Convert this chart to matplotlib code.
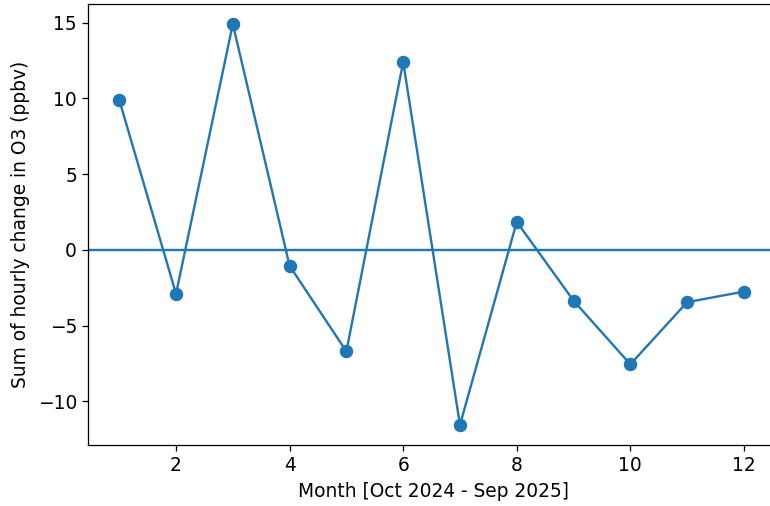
import matplotlib
matplotlib.use("Agg")
import matplotlib.pyplot as plt

months = [1, 2, 3, 4, 5, 6, 7, 8, 9, 10, 11, 12]
o3_change = [9.9, -2.9, 14.9, -1.05, -6.7, 12.4, -11.55, 1.85, -3.35, -7.55, -3.45, -2.75]

DPI = 114
fig = plt.figure(figsize=(770 / DPI, 506 / DPI), dpi=DPI)
ax = fig.add_axes([88 / 770, 61 / 506, (778 - 88) / 770, (502 - 61) / 506])

ax.plot(months, o3_change, marker="o", markersize=7.5)
ax.axhline(0)
ax.set_xlim(0.45, 12.6)
ax.spines["right"].set_visible(False)
ax.tick_params(labelsize=11.8)

ax.set_xlabel("Month [Oct 2024 - Sep 2025]", fontsize=11.8, labelpad=4.5)
ax.set_ylabel("Sum of hourly change in O3 (ppbv)", fontsize=11.8, labelpad=4.5)

fig.savefig("out.png", dpi=DPI)
